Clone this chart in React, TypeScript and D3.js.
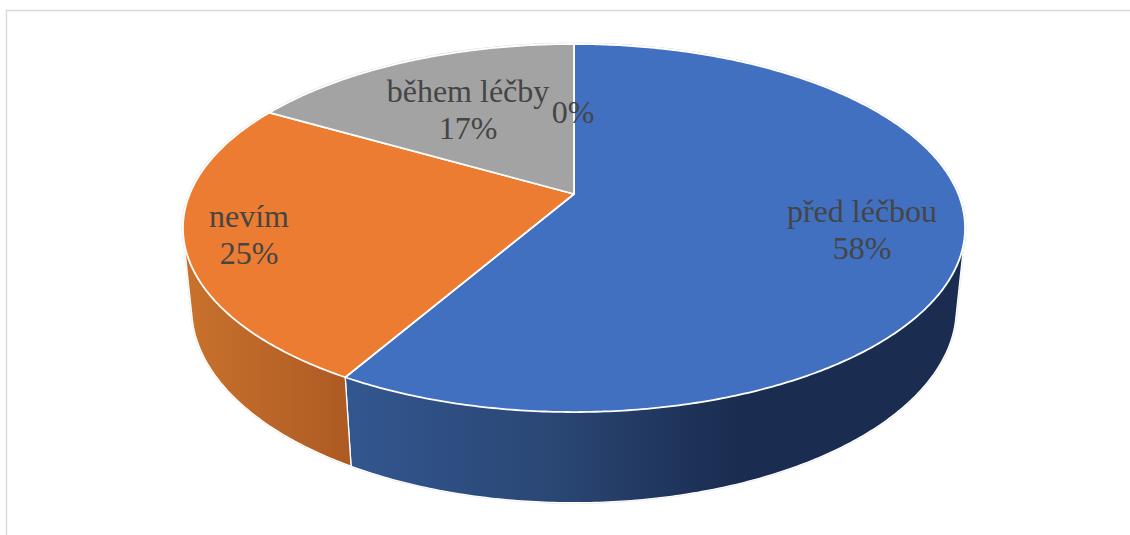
import React, { useMemo } from "react";
import * as d3 from "d3";

const categories = ["před léčbou", "nevím", "během léčby", ""];
const responseCounts = [7, 3, 2, 0];
const faceColors = ["#4270c1", "#eb7c31", "#a3a3a3", "#ffc000"];
// Horizontal shading of the side wall for each slice, as [offset, colour] stops.
const wallShades = [
  [[0, "#32568f"], [0.34, "#2a4673"], [0.57, "#1d3157"], [0.64, "#1a2d50"], [1, "#1a2d50"]],
  [[0, "#c9722d"], [1, "#ad5a23"]],
  [[0, "#7c7c7c"], [1, "#7c7c7c"]],
  [[0, "#bf9000"], [1, "#bf9000"]],
] as [number, string][][];
// Centre of each data label's block of text, in chart pixels.
const labelCentres = [
  [862, 229],
  [249, 234],
  [468, 109],
  [573, 112],
];

const WIDTH = 1130;
const HEIGHT = 535;

// Projective camera for the tilted disc: u is right, v is toward the viewer, h is depth of the wall.
const camera = { cx: 574, ax: 384.3, ay: 141.9, y0: 194, tilt: -0.1848, yWall: 85, wWall: 0.022 };

function project(angle: number, h: number): [number, number] {
  const u = Math.sin(angle);
  const v = -Math.cos(angle);
  const w = 1 + camera.tilt * v + camera.wWall * h;
  return [camera.cx + (camera.ax * u) / w, (camera.ay * v + camera.y0 + camera.yWall * h) / w];
}

function rim(a0: number, a1: number, h: number): [number, number][] {
  const n = Math.max(1, Math.ceil((a1 - a0) / 0.01));
  return d3.range(n + 1).map((i) => project(a0 + ((a1 - a0) * i) / n, h));
}

export default function App() {
  const slices = useMemo(
    () => d3.pie<number>().sort(null).value((d) => d)(responseCounts),
    []
  );
  const total = d3.sum(responseCounts);
  const percent = d3.format(".0%");
  const line = d3.line();
  const hub: [number, number] = [camera.cx, camera.y0];
  const wallHulls = slices.slice(0, 2).map(
    (s) =>
      d3.polygonHull([
        ...rim(s.startAngle, s.endAngle, 0),
        ...rim(s.startAngle, s.endAngle, 1),
      ])!
  );

  return (
    <svg
      width={WIDTH}
      height={HEIGHT}
      style={{ position: "absolute", left: 0, top: 0, display: "block", background: "#fff" }}
    >
      <defs>
        {slices.map((s, i) => {
          const pts = [...rim(s.startAngle, s.endAngle, 0), ...rim(s.startAngle, s.endAngle, 1)];
          const xs = pts.map((p) => p[0]);
          return (
            <linearGradient
              key={i}
              id={`wall-${i}`}
              gradientUnits="userSpaceOnUse"
              x1={i === 0 ? 351 : d3.min(xs)}
              x2={i === 0 ? 965 : d3.max(xs)}
              y1={0}
              y2={0}
            >
              {wallShades[i].map(([o, c]) => (
                <stop key={o} offset={o} stopColor={c} />
              ))}
            </linearGradient>
          );
        })}
      </defs>

      {/* chart frame, cut off by the right and bottom of the page */}
      <path d={`M6.5 ${HEIGHT}V10.5H${WIDTH}`} fill="none" stroke="#d9d9d9" strokeWidth={1.4} />

      {/* faint halo just outside the disc and wall outlines */}
      <path d={line(rim(0, 2 * Math.PI, 0)) + "Z"} fill="none" stroke="#d6d6d6" strokeWidth={2.6} />
      {wallHulls.map((hull, i) => (
        <path key={i} d={line(hull) + "Z"} fill="none" stroke="#e6e6e6" strokeWidth={2.2} />
      ))}

      {/* side walls: only the front-facing slices show, the top face hides the remainder */}
      {wallHulls.map((hull, i) => (
        <path
          key={i}
          d={line(hull) + "Z"}
          fill={`url(#wall-${i})`}
          stroke="#fff"
          strokeWidth={1.3}
          strokeLinejoin="round"
        />
      ))}

      {/* top faces */}
      {slices.map((s, i) =>
        s.endAngle > s.startAngle ? (
          <path
            key={i}
            d={line([hub, ...rim(s.startAngle, s.endAngle, 0)]) + "Z"}
            fill={faceColors[i]}
            stroke="#fff"
            strokeWidth={1.8}
            strokeLinejoin="round"
          />
        ) : null
      )}

      {/* data labels */}
      {slices.map((s, i) => {
        const [x, y] = labelCentres[i];
        const name = categories[i];
        const pct = percent(s.value / total);
        return (
          <text
            key={i}
            x={x}
            textAnchor="middle"
            fontFamily="'Liberation Serif', serif"
            fontSize={32}
            fill="#454545"
          >
            {name ? (
              <>
                <tspan x={x} y={y - 7}>{name}</tspan>
                <tspan x={x} y={y + 30}>{pct}</tspan>
              </>
            ) : (
              <tspan x={x} y={y + 11}>{pct}</tspan>
            )}
          </text>
        );
      })}
    </svg>
  );
}
